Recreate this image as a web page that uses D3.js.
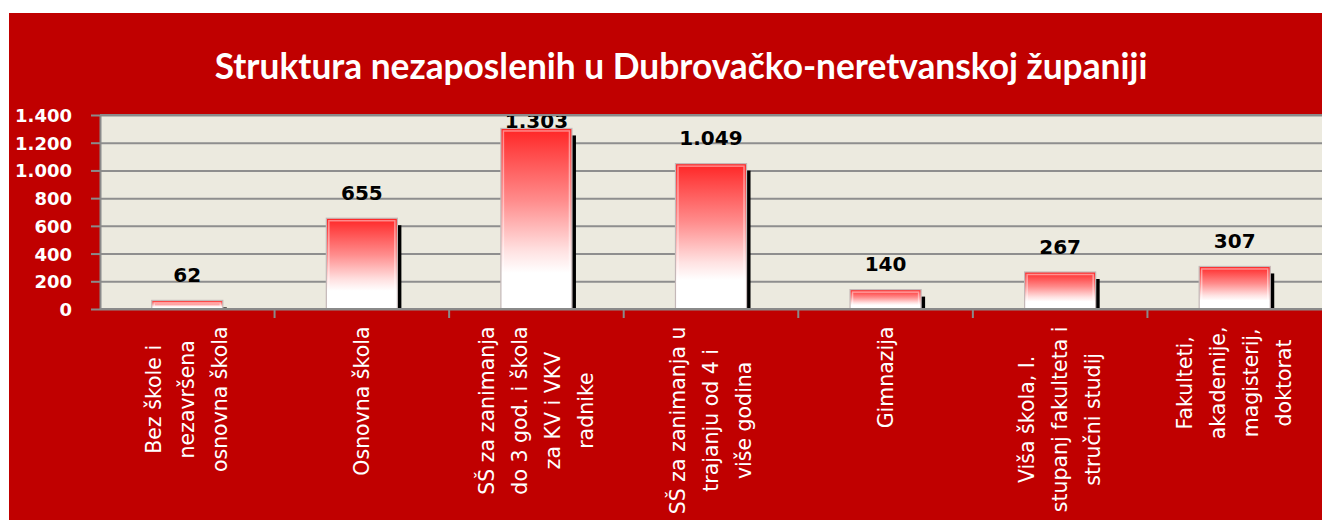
<!DOCTYPE html>
<html>
<head>
<meta charset="utf-8">
<script src="https://cdn.jsdelivr.net/npm/d3@7"></script>
<style>
  body { margin: 0; background: #ffffff; }
  .axes path, .axes line { stroke: #8a8a8a; stroke-width: 2; }
  .grid line { stroke: #8e8e8e; stroke-width: 2; }
  .grid path { display: none; }
  .ytick text { fill: #ffffff; font-family: "DejaVu Sans", sans-serif; font-weight: bold; font-size: 18px; }
  .value { fill: #000000; font-family: "DejaVu Sans", sans-serif; font-weight: bold; font-size: 20px; }
  .xlabel { fill: #ffffff; font-family: "DejaVu Sans", sans-serif; font-size: 20.5px; }
  .title { fill: #ffffff; font-family: Lato, sans-serif; font-weight: bold; }
</style>
</head>
<body>
<div id="canvas"></div>
<script>
// DATA
const categories = [
  ["Bez škole i", "nezavršena", "osnovna škola"],
  ["Osnovna škola"],
  ["SŠ za zanimanja", "do 3 god. i škola", "za KV i VKV", "radnike"],
  ["SŠ za zanimanja u", "trajanju od 4 i", "više godina"],
  ["Gimnazija"],
  ["Viša škola, I.", "stupanj fakulteta i", "stručni studij"],
  ["Fakulteti,", "akademije,", "magisterij,", "doktorat"]
];
const values = [62, 655, 1303, 1049, 140, 267, 307];
const yTicks = [0, 200, 400, 600, 800, 1000, 1200, 1400];
const title = "Struktura nezaposlenih u Dubrovačko-neretvanskoj županiji";

// DIMENSIONS
const width = 1322;
const height = 520;
const frame = { x: 9, y: 13 };
const margin = { top: 115, right: 0, bottom: 211, left: 100 };
const plot_width = width - margin.left - margin.right;
const plot_height = height - margin.top - margin.bottom;

// CANVAS
const canvas = d3.select("#canvas")
  .append("svg")
  .attr("width", width)
  .attr("height", height)
  .style("display", "block");

canvas.append("rect")
  .attr("x", frame.x)
  .attr("y", frame.y)
  .attr("width", width - frame.x)
  .attr("height", height - frame.y)
  .attr("fill", "#c00000");

const defs = canvas.append("defs");

const grad = defs.append("linearGradient")
  .attr("id", "barGrad")
  .attr("x1", 0).attr("y1", 0).attr("x2", 0).attr("y2", 1);
[[0, "#ff2424"], [0.12, "#ff4545"], [0.4, "#ff8c8c"], [0.68, "#ffe2e2"], [0.8, "#ffffff"], [1, "#ffffff"]]
  .forEach(s => grad.append("stop").attr("offset", s[0]).attr("stop-color", s[1]));

defs.append("clipPath")
  .attr("id", "plotClip")
  .append("rect")
  .attr("x", 0).attr("y", 0)
  .attr("width", plot_width).attr("height", plot_height);

// TITLE
const titleText = canvas.append("text")
  .attr("class", "title")
  .attr("x", 681)
  .attr("y", 79)
  .attr("text-anchor", "middle")
  .style("font-size", "32px")
  .text(title);
const tLen = titleText.node().getComputedTextLength();
titleText.style("font-size", (32 * 933 / tLen) + "px");

const plot = canvas.append("g")
  .attr("transform", `translate(${margin.left},${margin.top})`);

plot.append("rect")
  .attr("width", plot_width)
  .attr("height", plot_height)
  .attr("fill", "#eceadf");

// SCALES
const scaleX = d3.scaleBand(d3.range(categories.length), [0, plot_width]).padding(0);
const scaleY = d3.scaleLinear().domain([0, 1400]).range([plot_height, 0]);
const barW = scaleX.bandwidth() * 0.407;

const locale = d3.formatLocale({ decimal: ",", thousands: ".", grouping: [3], currency: ["", ""] });
const fmt = locale.format(",");

// GRID
plot.append("g")
  .attr("class", "grid")
  .call(d3.axisLeft(scaleY).tickValues(yTicks).tickSize(-plot_width).tickFormat(""));

// BARS
const bars = plot.append("g").attr("clip-path", "url(#plotClip)");

bars.selectAll(".shadow")
  .data(values)
  .join("rect")
  .attr("class", "shadow")
  .attr("x", (d, i) => scaleX(i) + (scaleX.bandwidth() - barW) / 2 + 4)
  .attr("y", d => scaleY(d) + 7)
  .attr("width", barW)
  .attr("height", d => Math.max(0, scaleY(0) - scaleY(d) - 7))
  .attr("fill", "#000000");

bars.selectAll(".bar")
  .data(values)
  .join("rect")
  .attr("class", "bar")
  .attr("x", (d, i) => scaleX(i) + (scaleX.bandwidth() - barW) / 2)
  .attr("y", d => scaleY(d))
  .attr("width", barW)
  .attr("height", d => scaleY(0) - scaleY(d))
  .attr("fill", "url(#barGrad)")
  .attr("stroke", "#c4b8b8")
  .attr("stroke-width", 1.2);

// bevel highlight
bars.selectAll(".bevel")
  .data(values)
  .join("rect")
  .attr("class", "bevel")
  .attr("x", (d, i) => scaleX(i) + (scaleX.bandwidth() - barW) / 2 + 2.5)
  .attr("y", d => scaleY(d) + 2.5)
  .attr("width", barW - 5)
  .attr("height", d => Math.max(0, scaleY(0) - scaleY(d) - 5))
  .attr("fill", "none")
  .attr("stroke", "#ffffff")
  .attr("stroke-opacity", 0.45)
  .attr("stroke-width", 1.5);

// VALUE LABELS
bars.selectAll(".value")
  .data(values)
  .join("text")
  .attr("class", "value")
  .attr("x", (d, i) => scaleX(i) + scaleX.bandwidth() / 2)
  .attr("y", d => Math.max(scaleY(d) - 18.5, 13))
  .attr("text-anchor", "middle")
  .text(d => fmt(d));

// AXES
const yaxis = plot.append("g")
  .attr("class", "axes ytick")
  .call(d3.axisLeft(scaleY).tickValues(yTicks).tickSize(9).tickPadding(19).tickFormat(fmt).tickSizeOuter(0));
yaxis.selectAll("text").attr("dy", "0.36em");

const xaxis = plot.append("g")
  .attr("class", "axes")
  .attr("transform", `translate(0,${plot_height})`);
xaxis.append("line")
  .attr("x1", 0).attr("x2", plot_width);
xaxis.selectAll(".xt")
  .data(d3.range(1, categories.length))
  .join("line")
  .attr("class", "xt")
  .attr("x1", d => scaleX(d)).attr("x2", d => scaleX(d))
  .attr("y1", 0).attr("y2", 9);

// top border
plot.append("line")
  .attr("x1", 0).attr("x2", plot_width)
  .attr("y1", 0).attr("y2", 0)
  .attr("stroke", "#8a8a8a")
  .attr("stroke-width", 2);

// X LABELS
const labelTop = 326.5;
const lineGap = 33;
const xl = canvas.append("g").selectAll("g")
  .data(categories)
  .join("g")
  .attr("transform", (d, i) => `translate(${margin.left + scaleX(i) + scaleX.bandwidth() / 2},${labelTop}) rotate(-90)`);

xl.each(function (lines) {
  const g = d3.select(this);
  const texts = g.selectAll("text")
    .data(lines)
    .join("text")
    .attr("class", "xlabel")
    .attr("text-anchor", "middle")
    .attr("dominant-baseline", "central")
    .attr("y", (d, j) => (j - (lines.length - 1) / 2) * lineGap)
    .text(d => d);
  const maxLen = d3.max(texts.nodes(), n => n.getComputedTextLength());
  texts.attr("x", -maxLen / 2);
});
</script>
</body>
</html>
